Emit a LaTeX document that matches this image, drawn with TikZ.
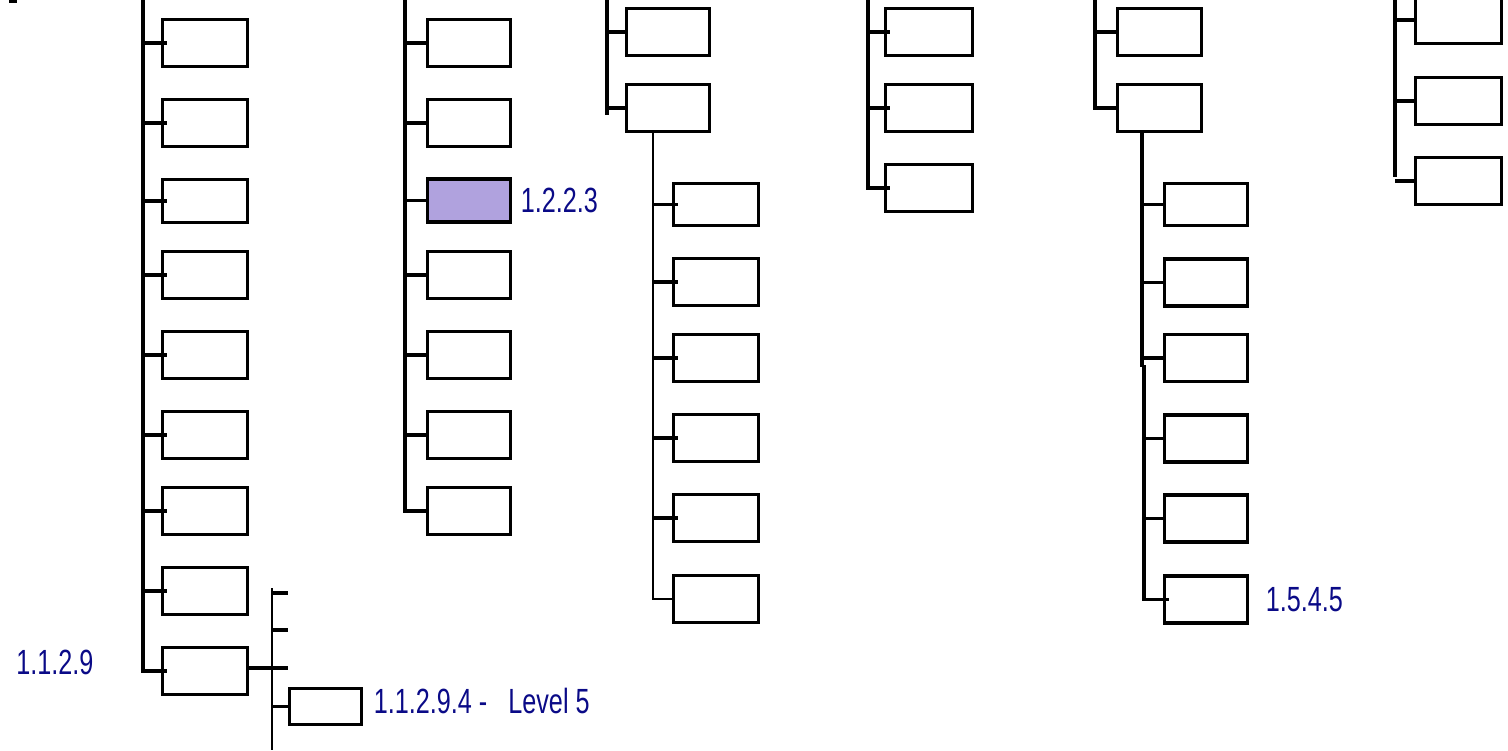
\documentclass[tikz,border=0pt]{standalone}
\usepackage{graphicx}
\usepackage{fontspec}
\setmainfont{Liberation Sans}
\usepackage{tikz}
\usetikzlibrary{positioning}
\definecolor{lblblue}{RGB}{10,10,135}
\definecolor{selfill}{RGB}{176,162,222}
\tikzset{
  box/.style={rectangle, draw=black, fill=white, line width=1.75pt,
    minimum width=42.5pt, minimum height=23.5pt, inner sep=0pt, outer sep=0pt},
  selbox/.style={box, fill=selfill},
  trunk/.style={line width=1.75pt, color=black},
  thintrunk/.style={line width=1.2pt, color=black},
  tick/.style={line width=1.75pt, color=black},
  lbl/.style={text=lblblue, font=\fontsize{17.5}{17.5}\selectfont, inner sep=0pt, anchor=west}
}
\newcommand{\narrowtext}[1]{\scalebox{0.72}[1]{#1}}

\begin{document}
\begin{tikzpicture}[x=0.5pt, y=-0.5pt]
  \useasboundingbox (0,0) rectangle (1508,750);

  % small mark in the corner
  \coordinate (m0) at (9,1);
  \draw[tick] (m0) -- ++(8,0);

  % Column 1.1
  \coordinate (t1) at (143,0);
  \foreach \y/\h [count=\i] in {43/23.5,123/23.5,201/21.5,275/23.5,355/23.5,435/23.5,511/23.5,591/23.5,671/23.5} {
    \node[box, minimum height=\h pt] (a\i) at (205,\y) {};
  }
  \foreach \i in {1,...,8} \draw[tick] (t1 |- a\i.west) -- ([xshift=2pt]a\i.west);
  \draw[trunk] (t1) |- ([xshift=2pt]a9.west);

  % Level 5 branch under 1.1.2.9
  \coordinate (s1) at (272,588);
  \coordinate (s2) at (272,750);
  \draw[thintrunk, line width=1.4pt] (s1) -- (s2);
  \foreach \y [count=\j] in {593,630,668} \coordinate (e\j) at (288,\y);
  \foreach \j in {1,2} \draw[tick] (s1 |- e\j) -- (e\j);
  \draw[tick] (a9.east |- e3) -- (e3);
  \node[box, minimum width=36pt, minimum height=18pt] (lv5) at (325.5,706.5) {};
  \draw[tick] (s1 |- lv5.west) -- (lv5.west);
  \node[lbl] (lbl1129) at (16,662) {\narrowtext{1.1.2.9}};
  \node[lbl, right=6pt of lv5, yshift=3pt] (lbl11294) {\narrowtext{1.1.2.9.4 -\ \ \ Level 5}};

  % Column 1.2
  \coordinate (t2) at (405,0);
  \foreach \y/\h/\s [count=\i] in {43/23.5/box,123/23.5/box,200.5/21.5/selbox,275/23.5/box,355/23.5/box,435/23.5/box,511/23.5/box} {
    \node[\s, minimum width=41.5pt, minimum height=\h pt] (b\i) at (469,\y) {};
  }
  \foreach \i in {1,...,6} \draw[tick] (t2 |- b\i.west) -- (b\i.west);
  \draw[trunk] (t2) |- (b7.west);
  \node[lbl, right=5pt of b3] (lbl1223) {\narrowtext{1.2.2.3}};

  % Column 1.3
  \coordinate (t3) at (607,0);
  \coordinate (t3b) at (607,115);
  \node[box, minimum width=41.5pt] (c1) at (668,32) {};
  \node[box, minimum width=41.5pt] (c2) at (668,108) {};
  \draw[trunk] (t3) -- (t3b);
  \draw[tick] (t3 |- c1.west) -- (c1.west);
  \draw[tick] (t3 |- c2.west) -- (c2.west);
  \coordinate (u3) at (653,133);
  \foreach \y/\h [count=\i] in {204.5/21,282/23.5,358/23.5,438/23.5,518/23.5,599/23.5} {
    \node[box, minimum height=\h pt] (d\i) at (716,\y) {};
  }
  \foreach \i in {1,...,5} \draw[tick] (u3 |- d\i.west) -- ([xshift=2pt]d\i.west);
  \draw[thintrunk] (u3) |- (d6.west);

  % Column 1.4
  \coordinate (t4) at (868,0);
  \foreach \y [count=\i] in {32,108,188} {
    \node[box, minimum width=43.5pt] (g\i) at (929,\y) {};
  }
  \foreach \i in {1,2} \draw[tick] (t4 |- g\i.west) -- ([xshift=2pt]g\i.west);
  \draw[trunk] (t4) |- ([xshift=2pt]g3.west);

  % Column 1.5
  \coordinate (t5) at (1095,0);
  \node[box, minimum width=42pt] (k1) at (1159.5,32) {};
  \node[box, minimum width=42pt] (k2) at (1159.5,108) {};
  \draw[tick] (t5 |- k1.west) -- (k1.west);
  \draw[trunk] (t5) |- (k2.west);
  \coordinate (u5) at (1142,133);
  \coordinate (u5m) at (1142,367);
  \coordinate (u5n) at (1144,365);
  \foreach \y/\h [count=\i] in {204.5/21,282.5/23.5,358/23.5,438.5/23.5,518.5/23.5,599.5/23.5} {
    \node[box, minimum width=41.5pt, minimum height=\h pt] (n\i) at (1206,\y) {};
  }
  \draw[trunk] (u5) -- (u5m);
  \foreach \i in {1,2,3} \draw[tick] (u5 |- n\i.west) -- (n\i.west);
  \draw[trunk] (u5n) |- ([xshift=2pt]n6.west);
  \foreach \i in {4,5} \draw[tick] (u5n |- n\i.west) -- (n\i.west);
  \node[lbl, right=9pt of n6] (lbl1545) {\narrowtext{1.5.4.5}};

  % Column 1.6
  \coordinate (t6) at (1395,0);
  \coordinate (t6b) at (1395,177);
  \foreach \y [count=\i] in {20,101,181} {
    \node[box, minimum width=43pt] (h\i) at (1458.5,\y) {};
  }
  \draw[trunk] (t6) -- (t6b);
  \foreach \i in {1,2,3} \draw[tick] (t6 |- h\i.west) -- (h\i.west);
\end{tikzpicture}
\end{document}
